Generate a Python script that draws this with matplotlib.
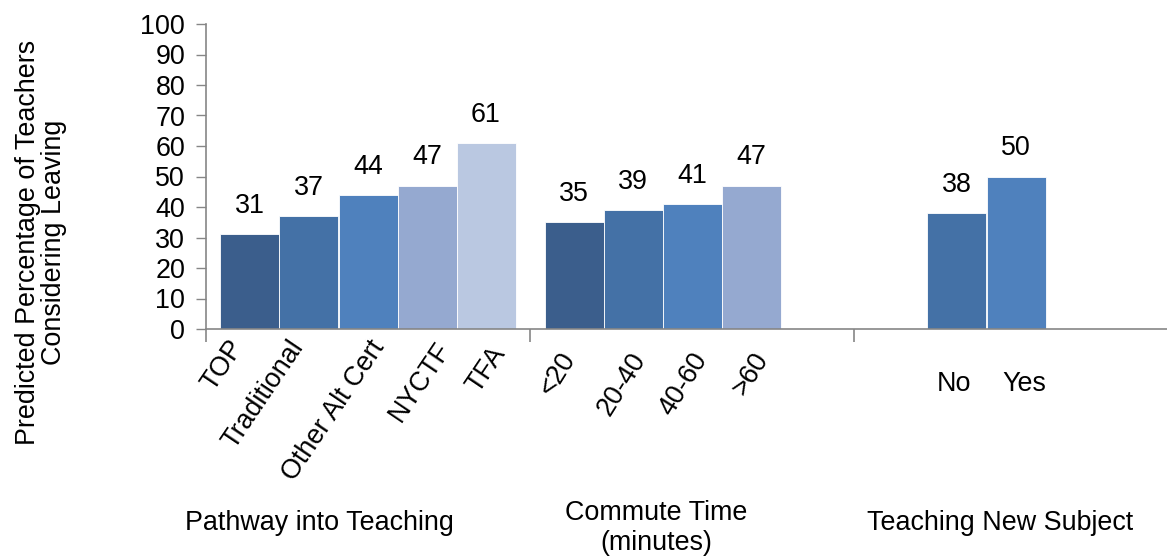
import matplotlib
matplotlib.use("Agg")
import matplotlib.pyplot as plt
from matplotlib.ticker import FixedLocator
from matplotlib.transforms import ScaledTranslation

# ---- data ----
groups = ["Pathway into Teaching", "Commute Time\n(minutes)", "Teaching New Subject"]
pathway_labels = ["TOP", "Traditional", "Other Alt Cert", "NYCTF", "TFA"]
pathway_values = [31, 37, 44, 47, 61]
commute_labels = ["<20", "20-40", "40-60", ">60"]
commute_values = [35, 39, 41, 47]
subject_labels = ["No", "Yes"]
subject_values = [38, 50]
yticks = list(range(0, 101, 10))
ylabel = "Predicted Percentage of Teachers\nConsidering Leaving"

# slot index within each group (5 slots per group)
pathway_slots = [0, 1, 2, 3, 4]
commute_slots = [0, 1, 2, 3]
subject_slots = [1, 2]

slot_colors = ["#3B5E8C", "#4471A6", "#4F81BD", "#95A9D0", "#BAC8E1"]

plt.rcParams["font.family"] = ["Liberation Sans", "DejaVu Sans"]
FS = 19.4

W, H = 1167, 556
fig = plt.figure(figsize=(W / 100, H / 100), dpi=100)
ax_l, ax_r, ax_t, ax_b = 206, 1178, 24, 329
ax = fig.add_axes([ax_l / W, (H - ax_b) / H, (ax_r - ax_l) / W, (ax_b - ax_t) / H])

gap = 14.5 / 324.0
slot_w = (1 - 2 * gap) / 5

def slot_center(g, s):
    return g + gap + slot_w * (s + 0.5)

def px_offset(dx, dy):
    # offset in pixels (dy positive = down)
    return ScaledTranslation(dx / 100, -dy / 100, fig.dpi_scale_trans)

xax_tr = ax.get_xaxis_transform()

# category label layout per group: rotation, per-label pixel offsets (dx, dy)
label_rot = [56, 58, 0]
label_dx = [[-12, -11, 11, 18, 14], [-4, 7, 10, 12], [-3, 8]]
label_dy = [[14, 14, 14, 16, 20], [26, 26, 26, 26], [42, 42]]

for g, (labs, vals, slots) in enumerate([
        (pathway_labels, pathway_values, pathway_slots),
        (commute_labels, commute_values, commute_slots),
        (subject_labels, subject_values, subject_slots)]):
    rot = label_rot[g]
    for i, (lab, v, s) in enumerate(zip(labs, vals, slots)):
        xc = slot_center(g, s)
        ax.bar(xc, v, width=slot_w, color=slot_colors[s], edgecolor="white",
               linewidth=0.6)
        ax.annotate(str(v), (xc, v), xytext=(0, 11), textcoords="offset points",
                    ha="center", va="bottom", fontsize=FS, color="black")
        tr = xax_tr + px_offset(label_dx[g][i], label_dy[g][i])
        if rot:
            ax.text(xc, 0, lab, rotation=rot, rotation_mode="anchor",
                    ha="right", va="center", fontsize=FS, transform=tr)
        else:
            ax.text(xc, 0, lab, ha="center", va="top", fontsize=FS, transform=tr)

ax.set_xlim(0, 3)
ax.set_ylim(0, 100)
ax.set_yticks(yticks)
ax.tick_params(axis="y", labelsize=FS, length=7, width=1, color="#868686",
               direction="out", pad=8)

for sp in ["top", "right"]:
    ax.spines[sp].set_visible(False)
for sp in ["left", "bottom"]:
    ax.spines[sp].set_color("#868686")
    ax.spines[sp].set_linewidth(1.2)

# ticks at group boundaries
ax.xaxis.set_major_locator(FixedLocator([0, 1, 2]))
ax.set_xticklabels(["", "", ""])
ax.tick_params(axis="x", which="major", length=9, width=1.2, color="#868686",
               direction="out")

# group titles
fig.text(319 / W, 1 - 523 / H, groups[0], ha="center", va="center", fontsize=FS)
fig.text(656 / W, 1 - 528 / H, groups[1], ha="center", va="center", fontsize=FS,
         linespacing=1.15)
fig.text(1000 / W, 1 - 523 / H, groups[2], ha="center", va="center", fontsize=FS)

fig.text(41 / W, 1 - 242 / H, ylabel, rotation=90, ha="center", va="center",
         fontsize=FS, multialignment="center", linespacing=1.0)

fig.savefig("out.png", dpi=100)
